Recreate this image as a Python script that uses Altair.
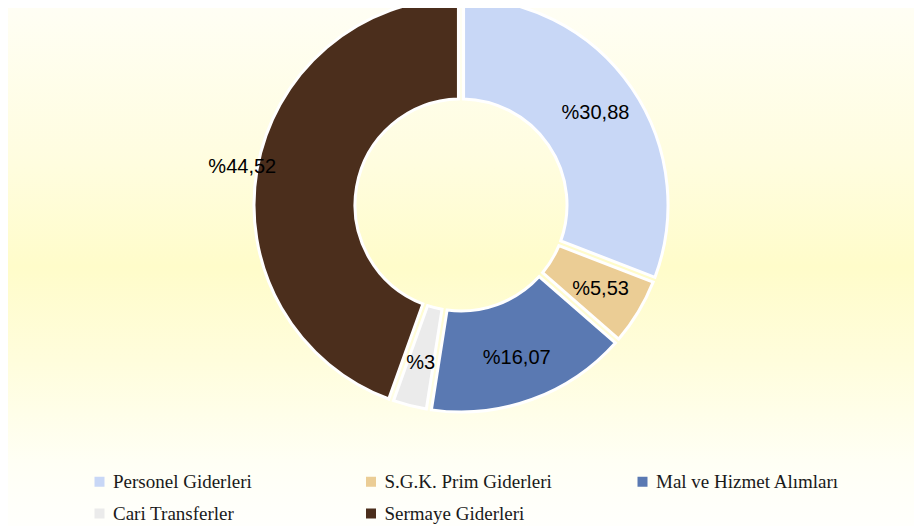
import altair as alt
import pandas as pd

categories = ["Personel Giderleri", "S.G.K. Prim Giderleri", "Mal ve Hizmet Alımları",
              "Cari Transferler", "Sermaye Giderleri"]
values = [30.88, 5.53, 16.07, 3.0, 44.52]
labels = ["%30,88", "%5,53", "%16,07", "%3", "%44,52"]
colors = ["#c8d7f6", "#ebcd95", "#5a79b2", "#ebebeb", "#4b2e1c"]

df = pd.DataFrame({"cat": categories, "value": values, "label": labels,
                   "idx": list(range(len(categories)))})

W, H = 906, 518
CX, CY = 453, 197

grad = alt.LinearGradient(
    gradient="linear", x1=0, x2=0, y1=0, y2=1,
    stops=[
        alt.GradientStop(offset=0.0, color="#fffef4"),
        alt.GradientStop(offset=0.3, color="#fffddf"),
        alt.GradientStop(offset=0.5, color="#fffcca"),
        alt.GradientStop(offset=0.68, color="#fffddc"),
        alt.GradientStop(offset=0.88, color="#fffff5"),
        alt.GradientStop(offset=1.0, color="#fffffc"),
    ],
)

bg = alt.Chart(pd.DataFrame({"a": [0]})).mark_rect(fill=grad).encode(
    x=alt.value(0), x2=alt.value(W), y=alt.value(0), y2=alt.value(H)
)

base = alt.Chart(df).encode(
    theta=alt.Theta("value:Q", stack=True),
    order=alt.Order("idx:Q"),
)

arcs = base.mark_arc(innerRadius=106, outerRadius=207, stroke="white",
                     strokeWidth=3, padAngle=0.022).encode(
    color=alt.Color(
        "cat:N",
        scale=alt.Scale(domain=categories, range=colors),
        legend=alt.Legend(
            orient="none", legendX=82, legendY=464, direction="horizontal",
            columns=3, title=None, symbolType="square", symbolSize=100,
            symbolStrokeWidth=0, labelFont="Liberation Serif", labelFontSize=19,
            labelColor="#1a1a1a", columnPadding=64.5, rowPadding=12,
            gridAlign="all", labelOffset=4, labelLimit=400, padding=0,
        ),
    ),
    x=alt.value(CX),
    y=alt.value(CY),
)

text_inner = base.transform_calculate(
    t="datum.cat == 'Sermaye Giderleri' ? '' : datum.label"
).mark_text(font="Liberation Sans", fontSize=20, color="black", radius=163).encode(
    text="t:N",
    x=alt.value(CX),
    y=alt.value(CY),
)

text_outer = base.transform_calculate(
    t="datum.cat == 'Sermaye Giderleri' ? datum.label : ''"
).mark_text(font="Liberation Sans", fontSize=20, color="black", radius=222).encode(
    text="t:N",
    x=alt.value(CX),
    y=alt.value(CY),
)

chart = alt.layer(bg, arcs, text_inner, text_outer).properties(
    width=W, height=H, padding=0, autosize="none", background="white"
).configure_view(stroke=None)

chart.save("out.html", embed_options={"renderer": "svg", "actions": False})
